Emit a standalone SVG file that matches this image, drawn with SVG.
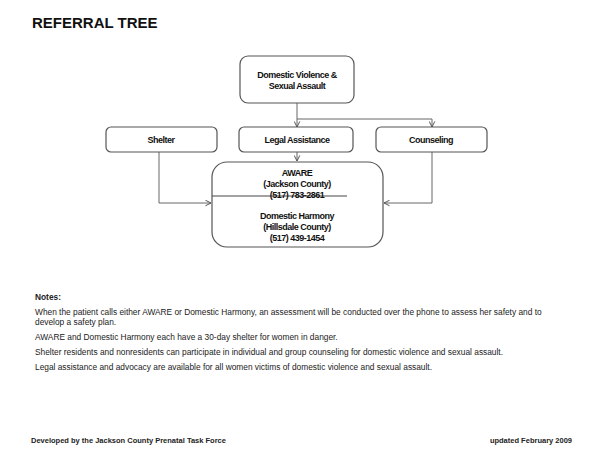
<svg xmlns="http://www.w3.org/2000/svg" width="600" height="450" viewBox="0 0 600 450">
<style>
.box{fill:#fff;stroke:#555;stroke-width:1.2}
.lbl{font-family:"Liberation Sans",Arial,sans-serif;font-weight:bold;font-size:9px;letter-spacing:-0.5px;fill:#111;text-anchor:middle}
.con{fill:none;stroke:#666;stroke-width:1}
.note{font-family:"Liberation Sans",Arial,sans-serif;font-size:8.35px;fill:#222}
.foot{font-family:"Liberation Sans",Arial,sans-serif;font-weight:bold;font-size:7.5px;fill:#222}
</style>
<defs>
<marker id="arr" viewBox="0 0 10 10" refX="9" refY="5" markerWidth="7" markerHeight="7" orient="auto" markerUnits="userSpaceOnUse">
<path d="M1,1 L9,5 L1,9" fill="none" stroke="#555" stroke-width="1.4"/>
</marker>
</defs>
<rect width="600" height="450" fill="#fff"/>
<text x="32" y="28" font-family="Liberation Sans,Arial,sans-serif" font-weight="bold" font-size="15" fill="#111">REFERRAL TREE</text>

<g id="connectors">
<line class="con" x1="297" y1="103" x2="297" y2="127" marker-end="url(#arr)"/>
<polyline class="con" points="297,119 432,119 432,127" marker-end="url(#arr)"/>
<line class="con" x1="297" y1="152" x2="297" y2="161" marker-end="url(#arr)"/>
<polyline class="con" points="159,152 159,203 211,203" marker-end="url(#arr)"/>
<polyline class="con" points="432,152 432,203 384,203" marker-end="url(#arr)"/>
</g>

<g id="node-dv">
<rect class="box" x="240" y="56" width="114" height="47" rx="8"/>
<text class="lbl" x="297" y="78">Domestic Violence &amp;</text>
<text class="lbl" x="297" y="89">Sexual Assault</text>
</g>
<g id="node-shelter">
<rect class="box" x="106" y="127" width="111" height="25" rx="5"/>
<text class="lbl" x="161" y="143">Shelter</text>
</g>
<g id="node-legal">
<rect class="box" x="239" y="127" width="114" height="25" rx="5"/>
<text class="lbl" x="297" y="143">Legal Assistance</text>
</g>
<g id="node-counseling">
<rect class="box" x="376" y="127" width="111" height="25" rx="5"/>
<text class="lbl" x="431" y="143">Counseling</text>
</g>
<g id="node-aware">
<rect class="box" x="212" y="162" width="171" height="85" rx="15"/>
<line x1="212" y1="196" x2="347" y2="196" stroke="#444" stroke-width="1"/>
<text class="lbl" x="297" y="176">AWARE</text>
<text class="lbl" x="297" y="187">(Jackson County)</text>
<text class="lbl" x="297" y="198">(517) 783-2861</text>
<text class="lbl" x="297" y="219">Domestic Harmony</text>
<text class="lbl" x="297" y="230">(Hillsdale County)</text>
<text class="lbl" x="297" y="241">(517) 439-1454</text>
</g>

<g id="notes">
<text x="35" y="300" font-family="Liberation Sans,Arial,sans-serif" font-weight="bold" font-size="8.35" fill="#222">Notes:</text>
<text class="note" x="35" y="315">When the patient calls either AWARE or Domestic Harmony, an assessment will be conducted over the phone to assess her safety and to</text>
<text class="note" x="35" y="325">develop a safety plan.</text>
<text class="note" x="35" y="340">AWARE and Domestic Harmony each have a 30-day shelter for women in danger.</text>
<text class="note" x="35" y="355">Shelter residents and nonresidents can participate in individual and group counseling for domestic violence and sexual assault.</text>
<text class="note" x="35" y="370">Legal assistance and advocacy are available for all women victims of domestic violence and sexual assault.</text>
</g>

<text class="foot" x="31" y="443">Developed by the Jackson County Prenatal Task Force</text>
<text class="foot" x="572" y="443" text-anchor="end">updated February 2009</text>
</svg>
